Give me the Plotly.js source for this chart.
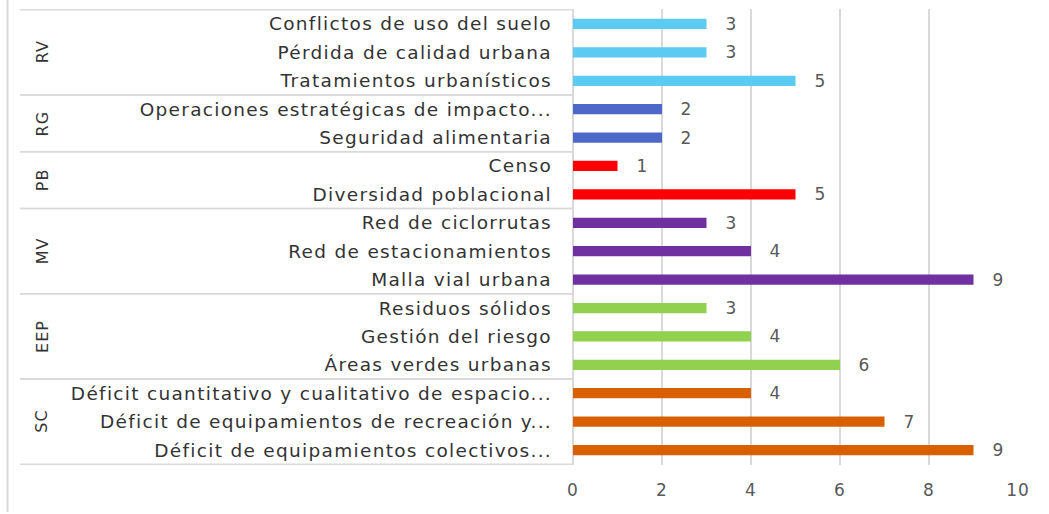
<!DOCTYPE html>
<html>
<head>
<meta charset="utf-8">
<script src="https://cdn.plot.ly/plotly-3.0.1.min.js"></script>
<style>
html,body{margin:0;padding:0;background:#fff;}
#chart{width:1049px;height:514px;}
#chart .ytick text{letter-spacing:1.3px;}
#chart .xtick text{letter-spacing:1px;}
#chart .annotation-text{letter-spacing:1px;}
</style>
</head>
<body>
<div id="chart"></div>
<script>
// Data (top to bottom)
var groups = ["RV","RV","RV","RG","RG","PB","PB","MV","MV","MV","EEP","EEP","EEP","SC","SC","SC"];
var labels = [
  "Conflictos de uso del suelo",
  "Pérdida de calidad urbana",
  "Tratamientos urbanísticos",
  "Operaciones estratégicas de impacto...",
  "Seguridad alimentaria",
  "Censo",
  "Diversidad poblacional",
  "Red de ciclorrutas",
  "Red de estacionamientos",
  "Malla vial urbana",
  "Residuos sólidos",
  "Gestión del riesgo",
  "Áreas verdes urbanas",
  "Déficit cuantitativo y cualitativo de espacio...",
  "Déficit de equipamientos de recreación y...",
  "Déficit de equipamientos colectivos..."
];
var values = [3,3,5,2,2,1,5,3,4,9,3,4,6,4,7,9];
var groupNames = ["RV","RG","PB","MV","EEP","SC"];
var groupColors = {RV:"#5BCBF2", RG:"#4D68C8", PB:"#FF0000", MV:"#7030A0", EEP:"#92D050", SC:"#D96000"};
var xTicks = [0,2,4,6,8,10];

var FONT = "DejaVu Sans";
var barColors = groups.map(function(g){return groupColors[g];});

var trace = {
  type:"bar", orientation:"h",
  x: values, y: labels,
  marker:{color: barColors},
  hoverinfo:"x+y"
};

// plot geometry in pixels for paper conversions
var L=573, R=31, T=9, B=49, W=1049, H=514;
var pw = W-L-R, ph = H-T-B;
function px2x(p){return (p-L)/pw;}
function py2y(p){return (H-B-p)/ph;}

var shapes = [];
var annotations = [];
// group boxes & labels
groupNames.forEach(function(g){
  var idx = [];
  groups.forEach(function(gg,i){ if(gg===g) idx.push(i); });
  var a = idx[0]-0.5, b = idx[idx.length-1]+0.5;
  [a,b].forEach(function(yy){
    shapes.push({type:"line", xref:"paper", yref:"y", x0:px2x(20), x1:0, y0:yy, y1:yy,
      line:{color:"#d9d9d9", width:1.5}, layer:"below"});
  });
  annotations.push({xref:"paper", yref:"y", x:px2x(42), y:(a+b)/2, text:g, showarrow:false,
    textangle:-90, font:{family:FONT, size:16, color:"#333333"}, xanchor:"center", yanchor:"middle"});
});
// chart outer left border
shapes.push({type:"line", xref:"paper", yref:"paper", x0:px2x(7.5), x1:px2x(7.5), y0:py2y(0), y1:py2y(512),
  line:{color:"#d9d9d9", width:2}});

// value labels
values.forEach(function(v,i){
  annotations.push({xref:"x", yref:"y", x:v, y:labels[i], text:String(v), showarrow:false,
    xanchor:"left", xshift:17, font:{family:FONT, size:17, color:"#595959"}});
});

var layout = {
  width:W, height:H,
  margin:{l:L, r:R, t:T, b:B, pad:0},
  paper_bgcolor:"#fff", plot_bgcolor:"#fff",
  showlegend:false,
  bargap:0.64,
  font:{family:FONT, color:"#333333"},
  xaxis:{range:[0,10], tickvals:xTicks, showgrid:true, gridcolor:"#d9d9d9", gridwidth:1.5,
    zeroline:true, zerolinecolor:"#d9d9d9", zerolinewidth:1.5, showline:false, ticks:"",
    ticklabelstandoff:13, tickfont:{family:FONT, size:17, color:"#595959"}, fixedrange:true},
  yaxis:{type:"category", autorange:"reversed", showgrid:false, zeroline:false, showline:false, ticks:"",
    ticklabelstandoff:20, tickfont:{family:FONT, size:18.5, color:"#333333"}, fixedrange:true},
  shapes:shapes,
  annotations:annotations
};

Plotly.newPlot("chart",[trace],layout,{displayModeBar:false, staticPlot:true});
</script>
</body>
</html>
